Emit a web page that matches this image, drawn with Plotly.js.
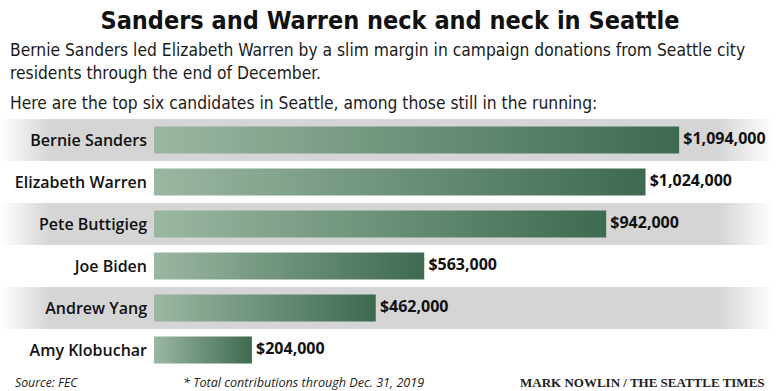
<!DOCTYPE html>
<html>
<head>
<meta charset="utf-8">
<script src="https://cdn.plot.ly/plotly-3.0.1.min.js"></script>
<style>
html,body{margin:0;padding:0;background:#fff;}
#chart{width:780px;height:391px;}
</style>
</head>
<body>
<div id="chart"></div>
<script>
// ---- data ----
const candidates = ["Bernie Sanders", "Elizabeth Warren", "Pete Buttigieg", "Joe Biden", "Andrew Yang", "Amy Klobuchar"];
const donations = [1094000, 1024000, 942000, 563000, 462000, 204000];
const valueLabels = ["$1,094,000", "$1,024,000", "$942,000", "$563,000", "$462,000", "$204,000"];

// ---- layout geometry (pixels) ----
const W = 780, H = 391;
const mTop = 119, mBottom = 20;
const plotH = H - mTop - mBottom;
const zeroPx = 154;            // pixel where $0 sits
const dollarsPerPx = 2083.3;   // scale
const pxToX = px => (px - zeroPx) * dollarsPerPx;
const pyToPaper = py => (H - mBottom - py) / plotH;

const labelFont = "'Open Sans', Lato, sans-serif";
const condFont = "'DejaVu Sans Condensed', 'DejaVu Sans', sans-serif";

const traces = [];

// alternating grey row bands, fading at both ends
for (let i = 0; i < candidates.length; i += 2) {
  const x0 = pxToX(0), x1 = pxToX(W);
  traces.push({
    type: "scatter", mode: "lines",
    x: [x0, x1, x1, x0, x0],
    y: [i - 0.5, i - 0.5, i + 0.5, i + 0.5, i - 0.5],
    fill: "toself", line: {width: 0, color: "rgba(0,0,0,0)"},
    fillgradient: {type: "horizontal",
      colorscale: [[0, "#ffffff"], [0.065, "#d5d5d5"], [0.92, "#d5d5d5"], [0.992, "#ffffff"], [1, "#ffffff"]]},
    hoverinfo: "skip", showlegend: false
  });
}

// bars as gradient-filled rectangles, one per candidate, from the data
const half = 0.32;
candidates.forEach((c, i) => {
  const v = donations[i];
  traces.push({
    type: "scatter", mode: "lines",
    x: [0, v, v, 0, 0],
    y: [i - half, i - half, i + half, i + half, i - half],
    fill: "toself", line: {width: 0, color: "rgba(0,0,0,0)"},
    fillgradient: {type: "horizontal", colorscale: [[0, "#9bb7a2"], [1, "#3d6a50"]]},
    hoverinfo: "skip", showlegend: false
  });
});

// value labels
traces.push({
  type: "scatter", mode: "text",
  x: donations, y: candidates.map((c, i) => i),
  text: valueLabels, texttemplate: " %{text}", textposition: "middle right",
  textfont: {family: labelFont, size: 16, color: "#111", weight: 700},
  hoverinfo: "skip", showlegend: false, cliponaxis: false
});

const ann = [
  {text: "Bernie Sanders led Elizabeth Warren by a slim margin in campaign donations from Seattle city", x: 8 / W, y: pyToPaper(50)},
  {text: "residents through the end of December.", x: 8 / W, y: pyToPaper(73)},
  {text: "Here are the top six candidates in Seattle, among those still in the running:", x: 8 / W, y: pyToPaper(103)}
].map(a => Object.assign({xref: "paper", yref: "paper", xanchor: "left", yanchor: "middle", showarrow: false,
  font: {family: condFont, size: 17.3, color: "#1a1a1a"}}, a));

ann.push({text: "Source: FEC", x: 13 / W, y: pyToPaper(382), xref: "paper", yref: "paper", xanchor: "left", yanchor: "middle",
  showarrow: false, font: {family: "'Open Sans', sans-serif", size: 12.3, color: "#222", style: "italic"}});
ann.push({text: "* Total contributions through Dec. 31, 2019", x: 181 / W, y: pyToPaper(382), xref: "paper", yref: "paper", xanchor: "left", yanchor: "middle",
  showarrow: false, font: {family: "'Open Sans', sans-serif", size: 12.6, color: "#222", style: "italic"}});
ann.push({text: "MARK NOWLIN / THE SEATTLE TIMES", x: 767 / W, y: pyToPaper(382), xref: "paper", yref: "paper", xanchor: "right", yanchor: "middle",
  showarrow: false, font: {family: "'Liberation Serif', serif", size: 13, color: "#222", weight: 700}});

const layout = {
  width: W, height: H,
  margin: {l: 0, r: 0, t: mTop, b: mBottom, pad: 0},
  paper_bgcolor: "#fff", plot_bgcolor: "rgba(0,0,0,0)",
  title: {text: "Sanders and Warren neck and neck in Seattle", x: 0.5, xanchor: "center",
    y: 1 - 20 / H, yanchor: "middle", yref: "container",
    font: {family: condFont, size: 25, color: "#111", weight: 700}},
  xaxis: {range: [pxToX(0), pxToX(W)], visible: false, fixedrange: true},
  yaxis: {range: [candidates.length - 0.5, -0.5], tickvals: candidates.map((c, i) => i), ticktext: candidates,
    anchor: "free", position: zeroPx / W, showgrid: false, zeroline: false, showline: false, ticks: "",
    ticklabelstandoff: 7,
    tickfont: {family: labelFont, size: 16, color: "#111", weight: 600}, fixedrange: true},
  annotations: ann,
  showlegend: false
};

Plotly.newPlot("chart", traces, layout, {staticPlot: true, displayModeBar: false});
</script>
</body>
</html>
